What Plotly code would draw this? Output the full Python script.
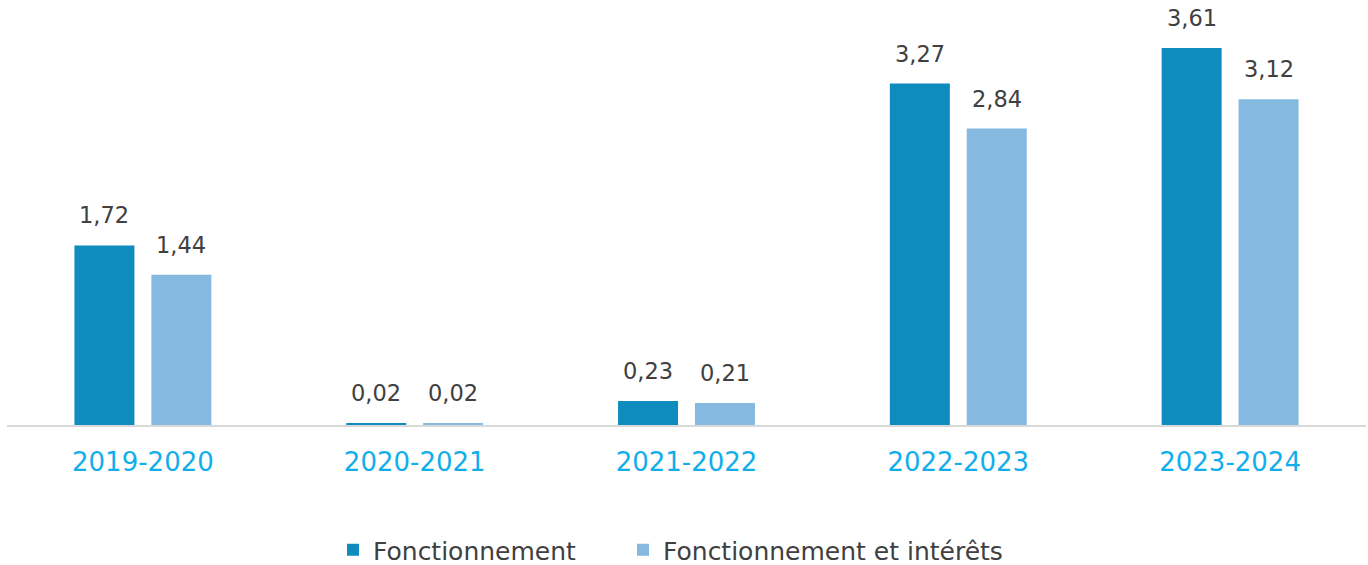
import plotly.graph_objects as go

categories = ["2019-2020", "2020-2021", "2021-2022", "2022-2023", "2023-2024"]
fonctionnement = [1.72, 0.02, 0.23, 3.27, 3.61]
fonct_interets = [1.44, 0.02, 0.21, 2.84, 3.12]
series_names = ["Fonctionnement", "Fonctionnement et intérêts"]
colors = ["#108BBD", "#86B9DF"]

FONT = "DejaVu Sans"
W, H = 1368, 565

fig = go.Figure()
for name, vals, col, lg in zip(series_names, [fonctionnement, fonct_interets],
                                colors, ["legend", "legend2"]):
    fig.add_trace(go.Bar(
        x=categories, y=vals, name=name, marker_color=col,
        marker_line_width=0, hoverinfo="skip", legend=lg,
    ))

# value labels above bars
for vals, xs in [(fonctionnement, -38.5), (fonct_interets, 38.5)]:
    for c, v in zip(categories, vals):
        fig.add_annotation(
            x=c, y=v, text=f"{v:.2f}".replace(".", ","), showarrow=False,
            xshift=xs, yshift=15, yanchor="bottom",
            font=dict(family=FONT, size=22.5, color="#404040"),
        )

legend_common = dict(
    orientation="h", xref="container", xanchor="left",
    yref="container", y=15 / H, yanchor="middle",
    font=dict(family=FONT, size=25, color="#404040"),
    bgcolor="rgba(0,0,0,0)",
)

fig.update_layout(
    width=W, height=H,
    margin=dict(l=7, r=2, t=5, b=140),
    paper_bgcolor="white", plot_bgcolor="white",
    barmode="group", bargap=0.434, bargroupgap=0.22,
    showlegend=True,
    legend=dict(x=333 / W, **legend_common),
    legend2=dict(x=623 / W, **legend_common),
    xaxis=dict(
        showline=True, linecolor="#D9D9D9", linewidth=2,
        showgrid=False, ticks="", zeroline=False,
        tickfont=dict(family=FONT, size=26, color="#12AEEB"),
        ticklabelstandoff=13,
    ),
    yaxis=dict(
        range=[0, 4.023], visible=False, showgrid=False, zeroline=False,
    ),
)

fig.write_html("out.html", config={"displayModeBar": False},
               post_script="document.body.style.margin='0';")
